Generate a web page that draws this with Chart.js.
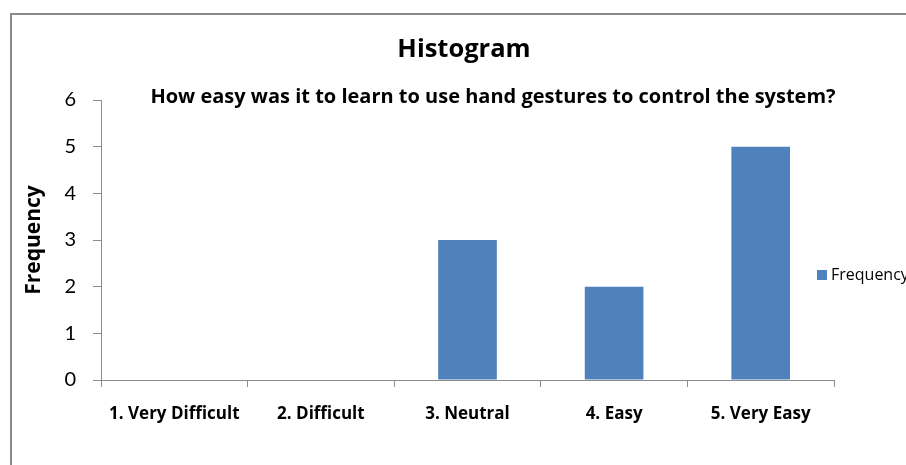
<!DOCTYPE html>
<html lang="en">
<head>
    <meta charset="UTF-8">
    <title>Histogram</title>
    <script src="https://cdn.jsdelivr.net/npm/chart.js"></script>
    <style>
        body {
            margin: 0;
            background: #FFFFFF;
            overflow: hidden;
        }
        .frame {
            position: absolute;
            left: 10px;
            top: 13px;
            width: 1000px;
            height: 600px;
            border: 2px solid #8a8a8a;
        }
        .chart-wrap {
            position: absolute;
            left: 0;
            top: 0;
            width: 906px;
            height: 465px;
        }
    </style>
</head>
<body>
    <div class="frame"></div>
    <div class="chart-wrap">
        <canvas id="histChart" width="906" height="465"></canvas>
    </div>

    <script>
        const categories = ['1. Very Difficult', '2. Difficult', '3. Neutral', '4. Easy', '5. Very Easy'];
        const frequency = [0, 0, 3, 2, 5];
        const yTicks = [0, 1, 2, 3, 4, 5, 6];
        const seriesLabel = 'Frequency';
        const titleText = 'Histogram';
        const subtitleText = 'How easy was it to learn to use hand gestures to control the system?';

        const FONT = '"Open Sans", Lato, sans-serif';
        const TICK_FONT = 'Lato, "Open Sans", sans-serif';
        const BAR_COLOR = '#4F81BD';

        // titles and the cut-off legend, placed like the original
        const decorations = {
            id: 'decorations',
            afterDraw(chart) {
                const ctx = chart.ctx;
                const area = chart.chartArea;
                ctx.save();
                ctx.fillStyle = '#000000';
                ctx.textAlign = 'center';
                ctx.textBaseline = 'middle';
                ctx.font = 'bold 25.5px ' + FONT;
                ctx.fillText(titleText, 464, 50);

                // subtitle squeezed to the width it has in the original
                let size = 21;
                ctx.font = 'bold ' + size + 'px ' + FONT;
                while (ctx.measureText(subtitleText).width > 686 && size > 10) {
                    size -= 0.25;
                    ctx.font = 'bold ' + size + 'px ' + FONT;
                }
                ctx.fillText(subtitleText, 493, 97);

                const ds = chart.data.datasets[0];
                const ly = (area.top + area.bottom) / 2 + 35;
                ctx.fillStyle = ds.backgroundColor;
                ctx.fillRect(817, ly - 5, 10, 10);
                ctx.fillStyle = '#000000';
                ctx.textAlign = 'left';
                ctx.font = '16px ' + FONT;
                ctx.fillText(ds.label, 831, ly);
                ctx.restore();
            }
        };

        new Chart(document.getElementById('histChart'), {
            type: 'bar',
            data: {
                labels: categories,
                datasets: [{
                    label: seriesLabel,
                    data: frequency,
                    backgroundColor: BAR_COLOR,
                    barPercentage: 0.4,
                    categoryPercentage: 1.0
                }]
            },
            options: {
                responsive: false,
                animation: false,
                layout: {
                    padding: { left: 0, top: 100, right: 72, bottom: 0 }
                },
                plugins: {
                    legend: { display: false },
                    title: { display: false },
                    tooltip: { enabled: false }
                },
                scales: {
                    x: {
                        grid: {
                            offset: true,
                            drawOnChartArea: false,
                            drawTicks: true,
                            tickLength: 7,
                            tickColor: '#8c8c8c'
                        },
                        border: { color: '#8c8c8c', width: 1 },
                        ticks: {
                            color: '#000000',
                            padding: 17,
                            maxRotation: 0,
                            font: { family: FONT, size: 17, weight: 'bold' }
                        },
                        afterFit(scale) { scale.height = 85; }
                    },
                    y: {
                        min: yTicks[0],
                        max: yTicks[yTicks.length - 1],
                        afterBuildTicks(scale) {
                            scale.ticks = yTicks.map(v => ({ value: v }));
                        },
                        grid: {
                            drawOnChartArea: false,
                            drawTicks: true,
                            tickLength: 8,
                            tickColor: '#8c8c8c'
                        },
                        border: { color: '#8c8c8c', width: 1 },
                        ticks: {
                            color: '#000000',
                            padding: 17,
                            font: { family: TICK_FONT, size: 20 }
                        },
                        title: {
                            display: true,
                            text: seriesLabel,
                            color: '#000000',
                            padding: { top: 21, bottom: 0 },
                            font: { family: FONT, size: 21, weight: 'bold' }
                        },
                        afterFit(scale) { scale.width = 101; }
                    }
                }
            },
            plugins: [decorations]
        });
    </script>
</body>
</html>
